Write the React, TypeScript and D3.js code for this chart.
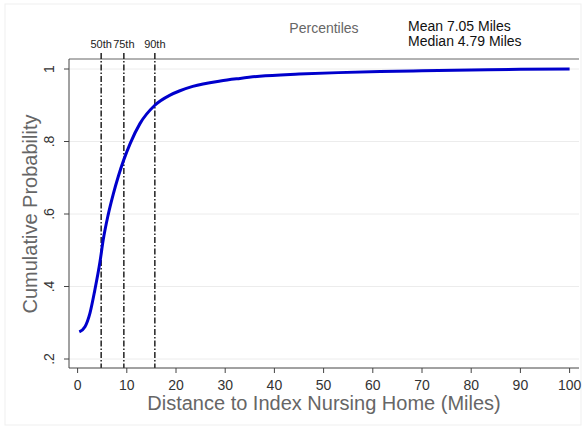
import React from "react";
import * as d3 from "d3";

// distance to index nursing home (miles) and cumulative probability
const distance = [0.35, 1.5, 2.5, 3.5, 4.55, 5.2, 6.2, 7.25, 8.3, 9.4, 10.7, 12.7, 15.7, 18.8, 20.8, 23.4, 29, 33, 37, 45, 53, 61.5, 70, 80, 90, 100];
const cumProb = [0.275, 0.289, 0.326, 0.39, 0.468, 0.528, 0.597, 0.655, 0.705, 0.75, 0.795, 0.85, 0.9, 0.928, 0.94, 0.952, 0.967, 0.974, 0.98, 0.986, 0.99, 0.993, 0.995, 0.997, 0.999, 1.0];

const xTicks = [0, 10, 20, 30, 40, 50, 60, 70, 80, 90, 100];
const yTicks = [0.2, 0.4, 0.6, 0.8, 1];
const yTickLabels = [".2", ".4", ".6", ".8", "1"];

const pctNames = ["50th", "75th", "90th"];
const pctValues = [4.79, 9.4, 15.7];

const statLines = ["Mean 7.05 Miles", "Median 4.79 Miles"];

const W = 586;
const H = 432;
const FONT = "'Liberation Sans', Arial, Helvetica, sans-serif";

export default function App() {
  const plot = { left: 69, right: 579, top: 59, bottom: 368 };

  const x = d3.scaleLinear().domain([0, 100]).range([77.6, 569.6]);
  const y = d3.scaleLinear().domain([0.2, 1]).range([359, 69]);

  const line = d3
    .line<number>()
    .x((_, i) => x(distance[i]))
    .y((d) => y(d))
    .curve(d3.curveMonotoneX);

  return (
    <svg
      width={W}
      height={H}
      style={{ position: "fixed", left: 0, top: 0, background: "#fff" }}
      fontFamily={FONT}
    >
      {/* faint outer frame */}
      <rect x={5} y={4} width={576} height={421} fill="none" stroke="#efefef" strokeWidth={1} />

      {/* gridlines */}
      {yTicks.map((t) => (
        <line key={"g" + t} x1={plot.left} x2={plot.right} y1={y(t)} y2={y(t)} stroke="#ececec" strokeWidth={1} />
      ))}

      {/* top border of plot region */}
      <line x1={plot.left} x2={plot.right} y1={plot.top} y2={plot.top} stroke="#999" strokeWidth={1.5} />

      {/* percentile lines */}
      {pctValues.map((v, i) => (
        <g key={pctNames[i]}>
          <line
            x1={x(v)}
            x2={x(v)}
            y1={53}
            y2={plot.bottom}
            stroke="#222"
            strokeWidth={1.5}
            strokeDasharray="6,2,1.5,2"
          />
          <text x={x(v)} y={48} textAnchor="middle" fontSize={11} fill="#222">
            {pctNames[i]}
          </text>
        </g>
      ))}

      {/* cdf curve */}
      <path d={line(cumProb) || ""} fill="none" stroke="#0000cc" strokeWidth={3} />

      {/* axes */}
      <line x1={plot.left} x2={plot.left} y1={plot.top} y2={plot.bottom} stroke="#444" strokeWidth={1} />
      <line x1={plot.left} x2={plot.right} y1={plot.bottom} y2={plot.bottom} stroke="#444" strokeWidth={1} />

      {xTicks.map((t) => (
        <g key={"x" + t}>
          <line x1={x(t)} x2={x(t)} y1={plot.bottom} y2={plot.bottom + 5} stroke="#444" />
          <text x={x(t)} y={390} textAnchor="middle" fontSize={14} fill="#333">
            {t}
          </text>
        </g>
      ))}

      {yTicks.map((t, i) => (
        <g key={"y" + t}>
          <line x1={plot.left - 5} x2={plot.left} y1={y(t)} y2={y(t)} stroke="#444" />
          <text
            transform={`translate(54,${y(t)}) rotate(-90)`}
            textAnchor="middle"
            fontSize={14}
            fill="#333"
          >
            {yTickLabels[i]}
          </text>
        </g>
      ))}

      {/* axis titles */}
      <text x={(plot.left + plot.right) / 2} y={410} textAnchor="middle" fontSize={20} fill="#666">
        Distance to Index Nursing Home (Miles)
      </text>
      <text
        transform={`translate(37,${(y(0.2) + y(1)) / 2}) rotate(-90)`}
        textAnchor="middle"
        fontSize={20}
        fill="#666"
      >
        Cumulative Probability
      </text>

      {/* legend-like annotations */}
      <text x={(plot.left + plot.right) / 2} y={33} textAnchor="middle" fontSize={14} fill="#666">
        Percentiles
      </text>
      {statLines.map((s, i) => (
        <text key={s} x={408} y={30.5 + i * 15} fontSize={14} fill="#111">
          {s}
        </text>
      ))}
    </svg>
  );
}
